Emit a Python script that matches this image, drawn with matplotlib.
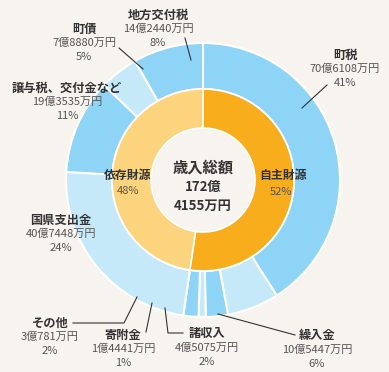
import matplotlib
matplotlib.use("Agg")
import matplotlib.pyplot as plt

plt.rcParams['font.family'] = ['Noto Sans CJK JP', 'DejaVu Sans']

# 歳入内訳 (万円)
names = ['町税', '繰入金', '諸収入', '寄附金', 'その他',
         '国県支出金', '譲与税、交付金など', '町債', '地方交付税']
amounts = [706108, 105447, 45075, 14441, 30781,
           407448, 193535, 78880, 142440]
amount_labels = ['70億6108万円', '10億5447万円', '4億5075万円', '1億4441万円', '3億781万円',
                 '40億7448万円', '19億3535万円', '7億8880万円', '14億2440万円']
pcts = ['41%', '6%', '2%', '1%', '2%', '24%', '11%', '5%', '8%']

groups = ['自主財源', '依存財源']
group_amounts = [sum(amounts[:5]), sum(amounts[5:])]
group_pcts = ['52%', '48%']

total_label = ['歳入総額', '172億', '4155万円']

W, H = 389, 372
BG = '#f7f3ee'
MID = '#8dd4f6'
LIGHT = '#c6e9fa'
outer_colors = [MID, LIGHT, MID, LIGHT, MID, LIGHT, MID, LIGHT, MID]
inner_colors = ['#f8ad1d', '#fdd47e']

fig = plt.figure(figsize=(W / 100, H / 100), dpi=100, facecolor=BG)
ax = fig.add_axes([0, 0, 1, 1])
ax.set_facecolor(BG)

cx, cy = 203, H - 180
ax.pie(amounts, colors=outer_colors, startangle=90, counterclock=False,
       center=(cx, cy), radius=137, frame=True,
       wedgeprops=dict(width=46, edgecolor='white', linewidth=1.5))
ax.pie(group_amounts, colors=inner_colors, startangle=90, counterclock=False,
       center=(cx, cy), radius=91, frame=True,
       wedgeprops=dict(width=39, edgecolor='white', linewidth=1.2))
ax.set_xlim(0, W)
ax.set_ylim(0, H)
ax.set_aspect('equal')
ax.axis('off')


def label(x, y, i):
    y = H - y
    ax.text(x, y, names[i], ha='center', va='center', fontsize=8.8,
            fontweight='bold', color='#333333')
    ax.text(x, y - 14, amount_labels[i], ha='center', va='center',
            fontsize=8, color='#555555')
    ax.text(x, y - 28, pcts[i], ha='center', va='center',
            fontsize=8, color='#555555')


def line(pts):
    ax.plot([p[0] for p in pts], [H - p[1] for p in pts], color='#333333', lw=0.8)


label(345, 55, 0)
line([(302, 108), (327, 85)])
label(317, 336, 1)
line([(218, 314), (295, 335)])
label(207, 334, 2)
line([(165, 308), (168, 333), (183, 333)])
label(123, 335, 3)
line([(152, 303), (146, 332)])
label(50, 323, 4)
line([(137, 297), (124, 323), (73, 323)])
label(61, 220, 5)
label(67, 88, 6)
label(84, 29, 7)
line([(119, 48), (143, 69)])
label(158, 15, 8)
line([(185, 38), (191, 60)])

# inner labels
ax.text(128, H - 175, groups[1], ha='center', va='center', fontsize=8.6,
        fontweight='bold', color='#333333')
ax.text(128, H - 191, group_pcts[1], ha='center', va='center', fontsize=8, color='#555555')
ax.text(283, H - 175, groups[0], ha='center', va='center', fontsize=8.6,
        fontweight='bold', color='#333333')
ax.text(281, H - 192, group_pcts[0], ha='center', va='center', fontsize=8, color='#555555')

# center
ax.text(cx, H - 168, total_label[0], ha='center', va='center', fontsize=11,
        fontweight='bold', color='#333333')
ax.text(cx, H - 187, total_label[1], ha='center', va='center', fontsize=9.5,
        fontweight='bold', color='#333333')
ax.text(cx, H - 206, total_label[2], ha='center', va='center', fontsize=9.5,
        fontweight='bold', color='#333333')

fig.savefig('out.png', dpi=100, facecolor=BG)
